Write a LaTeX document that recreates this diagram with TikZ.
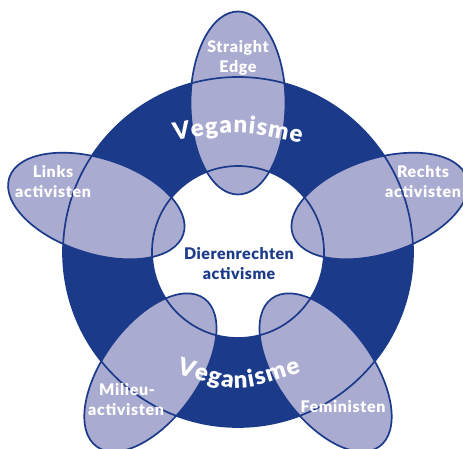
\documentclass[tikz,border=0pt]{standalone}
\usepackage{fontspec}
\setmainfont{Lato}[BoldFont={Lato Black}]
\newfontfamily\labfont{Lato}[BoldFont={Lato Black}, LetterSpace=4]
\newfontfamily\ctrfont{Lato}[BoldFont={Lato Black}, LetterSpace=3]
\usetikzlibrary{decorations.text}
\definecolor{ringblue}{RGB}{27,58,138}
\definecolor{lav}{RGB}{170,171,208}
\tikzset{
  ell/.style={fill=lav, draw=ringblue, line width=1.7pt},
  rimline/.style={draw=ringblue, line width=1.7pt},
  lab/.style={text=white, font=\labfont\bfseries\fontsize{16}{18}\selectfont, anchor=base, inner sep=0pt},
  ctr/.style={text=ringblue, font=\ctrfont\bfseries\fontsize{16}{18}\selectfont, anchor=base, inner sep=0pt},
}
\begin{document}
\begin{tikzpicture}[x=1pt,y=-1pt]
\useasboundingbox (0,0) rectangle (463,448);
% ring
\fill[ringblue, even odd rule] (238,252) circle[radius=175pt] (238,252) circle[radius=86pt];
% ellipses
\path[ell] (238,103) ellipse[x radius=47.5pt, y radius=91.5pt];
\path[ell, rotate around={72:(96.3,206)}] (96.3,206) ellipse[x radius=47.5pt, y radius=91.5pt];
\path[ell, rotate around={-72:(379.7,206)}] (379.7,206) ellipse[x radius=47.5pt, y radius=91.5pt];
\path[ell, rotate around={144:(150.4,372.5)}] (150.4,372.5) ellipse[x radius=47.5pt, y radius=91.5pt];
\path[ell, rotate around={-144:(325.6,372.5)}] (325.6,372.5) ellipse[x radius=47.5pt, y radius=91.5pt];
% ring outlines on top
\path[rimline] (238,252) circle[radius=175pt];
\path[rimline] (238,252) circle[radius=86pt];
% Veganisme texts
\path[decorate, decoration={text along path, text color=white,
  text={|\bfseries\fontsize{24}{24}\selectfont|Veganisme}, text align=fit to path}]
  (174,140) .. controls (238,130) .. (301,143);
\path[decorate, decoration={text along path, text color=white,
  text={|\bfseries\fontsize{24}{24}\selectfont|Veganisme}, text align=fit to path}]
  (176,373) .. controls (238,393) .. (301,372);
% labels
\node[lab] (se1) at (238,52) {Straight};
\node[lab] (se2) at (238,72) {Edge};
\node[lab] (li1) at (53,177) {Links};
\node[lab] (li2) at (53,197) {activisten};
\node[lab] (re1) at (423,177) {Rechts};
\node[lab] (re2) at (423,197) {activisten};
\node[lab] (mi1) at (127,395) {Milieu-};
\node[lab] (mi2) at (126,415) {activisten};
\node[lab] (fe1) at (343,412) {Feministen};
\node[ctr] (dr1) at (239,259) {Dierenrechten};
\node[ctr] (dr2) at (239,279) {activisme};
\end{tikzpicture}
\end{document}
